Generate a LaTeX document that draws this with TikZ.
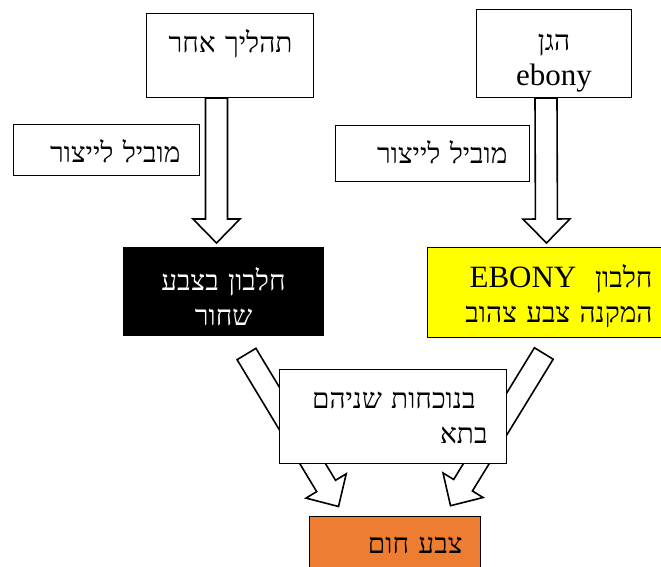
\documentclass[tikz,border=0pt]{standalone}
\usepackage{fontspec}
\setmainfont{Liberation Serif}
\newfontfamily\hebfont[Script=Hebrew]{Liberation Serif}
\TeXXeTstate=1
\usetikzlibrary{calc}

\definecolor{ebonyyellow}{HTML}{FFFF00}
\definecolor{tanorange}{HTML}{ED7D31}

% Latin words are set a little larger than the Hebrew
\newcommand\latinword[1]{{\fontsize{31}{35}\selectfont #1}}

% hollow block arrow from #1 to #2 (shaft 22pt, head 47pt wide, 24pt long)
\newcommand\blockarrow[2]{%
  \coordinate (ba-s) at (#1);
  \coordinate (ba-e) at (#2);
  \coordinate (ba-b) at ($(ba-e)!24pt!(ba-s)$);
  \draw[fatarrow] ($(ba-s)!11pt!90:(ba-e)$) -- ($(ba-b)!11pt!90:(ba-e)$)
    -- ($(ba-b)!23.5pt!90:(ba-e)$) -- (ba-e) -- ($(ba-b)!23.5pt!-90:(ba-e)$)
    -- ($(ba-b)!11pt!-90:(ba-e)$) -- ($(ba-s)!11pt!-90:(ba-e)$) -- cycle;
}

\begin{document}
\begin{tikzpicture}[x=1pt, y=-1pt,
    box/.style={draw, line width=1pt, fill=white, inner ysep=0pt, anchor=north west,
                font=\hebfont\fontsize{28}{35}\selectfont},
    fatarrow/.style={draw, line width=1.6pt, fill=white, line join=miter}]

\useasboundingbox (0,0) rectangle (661,567);
\clip (0,0) rectangle (661,567);

% Top sources
\node[box, text width=125pt, inner xsep=21pt, text height=39pt, text depth=45pt, align=right] (proc) at (146,13)
  {\beginR תהליך אחר\endR};
\node[box, text width=145pt, inner xsep=5pt, text height=41pt, text depth=47pt, align=center] (gene) at (476,9)
  {\beginR הגן\endR\\ \latinword{ebony}};

% Middle proteins
\node[box, fill=black, text=white, text width=190pt, inner xsep=5pt, text height=43pt, text depth=45pt, align=center] (black) at (123,247)
  {\beginR חלבון בצבע\endR\\ \beginR שחור\endR};
\node[box, fill=ebonyyellow, text width=212pt, inner xsep=13pt, text height=40pt, text depth=50pt, align=right] (yellow) at (427,247)
  {\beginR חלבון\ \ \beginL\latinword{EBONY}\endL\endR\\ \beginR המקנה צבע צהוב\endR};

% Result
\node[box, fill=tanorange, text width=135pt, inner xsep=18pt, text height=37pt, text depth=22pt, align=right] (color) at (309,516)
  {\beginR צבע חום\endR};

% Arrows
\blockarrow{$(proc.south)+(-13.5,0)$}{$(black.north)+(-7,-4)$}
\blockarrow{$(gene.south)+(-8,0)$}{$(yellow.north)+(0,-4)$}
\blockarrow{$(black.south)+(23,18)$}{$(color.north)+(-56.5,-9.5)$}
\blockarrow{$(yellow.south)+(-2.7,15.5)$}{$(color.north)+(55.5,-10.3)$}

% Side labels
\node[box, text width=148pt, inner xsep=19pt, text height=38pt, text depth=13pt, align=right] (lblleft) at (13,124)
  {\beginR מוביל לייצור\endR};
\node[box, text width=150pt, inner xsep=22pt, text height=38pt, text depth=18pt, align=right] (lblright) at (335,125)
  {\beginR מוביל לייצור\endR};
\node[box, text width=189pt, inner xsep=19pt, text height=39pt, text depth=55pt, align=right] (both) at (279,369)
  {\beginR בנוכחות שניהם\endR\kern12pt\\ \beginR בתא\endR};

\end{tikzpicture}
\end{document}
